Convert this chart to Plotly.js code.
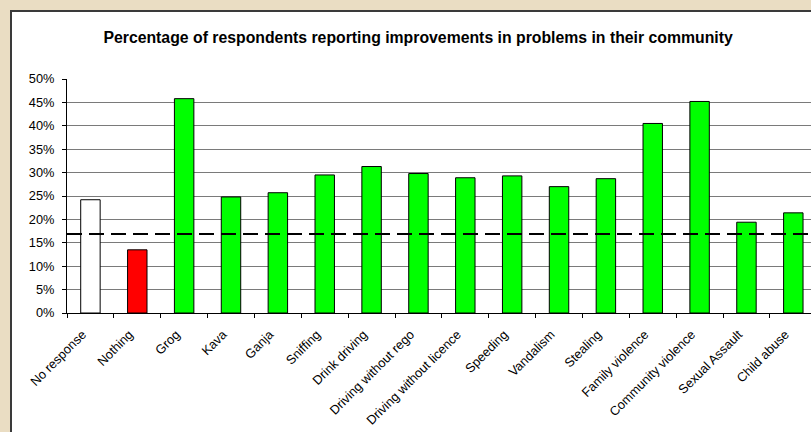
<!DOCTYPE html>
<html>
<head>
<meta charset="utf-8">
<script src="https://cdn.plot.ly/plotly-3.0.1.min.js"></script>
<style>
html,body{margin:0;padding:0;background:#EADDC3;width:811px;height:432px;overflow:hidden;}
#wrap{position:absolute;left:10px;top:10px;width:801px;height:422px;border-left:2px solid #3a3a3a;border-top:2px solid #3a3a3a;background:#fff;}
#chart{width:801px;height:422px;}
</style>
</head>
<body>
<div id="wrap"><div id="chart"></div></div>
<script>
var categories = ["No response","Nothing","Grog","Kava","Ganja","Sniffing","Drink driving","Driving without rego","Driving without licence","Speeding","Vandalism","Stealing","Family violence","Community violence","Sexual Assault","Child abuse"];
var values = [0.242,0.135,0.458,0.248,0.257,0.295,0.313,0.298,0.289,0.293,0.270,0.287,0.405,0.452,0.194,0.214];
var barColors = ["#FFFFFF","#FF0000","#00FF00","#00FF00","#00FF00","#00FF00","#00FF00","#00FF00","#00FF00","#00FF00","#00FF00","#00FF00","#00FF00","#00FF00","#00FF00","#00FF00"];
var referenceLine = 0.169;
var chartTitle = "Percentage of respondents reporting improvements in problems in their community";

var trace = {
  type: "bar",
  x: categories,
  y: values,
  marker: {color: barColors, line: {color: "#000000", width: 1}},
  hoverinfo: "x+y"
};

var layout = {
  width: 801, height: 422,
  margin: {l: 55, r: 0, t: 67, b: 121, pad: 0},
  paper_bgcolor: "#FFFFFF",
  plot_bgcolor: "#FFFFFF",
  font: {family: "Liberation Sans, Arial, sans-serif", color: "#000000", size: 12},
  title: {text: "<b>" + chartTitle + "</b>", x: 0.507, xanchor: "center", y: 0.94, yanchor: "middle", font: {size: 15.8, family: "Liberation Sans, Arial, sans-serif"}},
  bargap: 0.585,
  showlegend: false,
  xaxis: {
    type: "category",
    range: [-0.5, 15.42],
    tickson: "boundaries",
    ticks: "outside", ticklen: 4, tickcolor: "#000", tickwidth: 1,
    tickangle: -45,
    tickfont: {size: 12.8},
    ticklabelstandoff: 8,
    ticklabelshift: -8,
    showline: true, linecolor: "#000", linewidth: 1,
    showgrid: false, zeroline: false, fixedrange: true
  },
  yaxis: {
    range: [0, 0.5],
    dtick: 0.05, tick0: 0,
    tickformat: ".0%",
    ticks: "outside", ticklen: 4, tickcolor: "#000",
    tickfont: {size: 12.8},
    ticklabelstandoff: 5,
    showline: true, linecolor: "#000", linewidth: 1,
    showgrid: true, gridcolor: "#7a7a7a", gridwidth: 1,
    zeroline: false, fixedrange: true
  },
  shapes: [{
    type: "line", xref: "paper", yref: "y",
    x0: 0, x1: 1, y0: referenceLine, y1: referenceLine,
    line: {color: "#000000", width: 2, dash: "15px,7px"}
  }]
};

Plotly.newPlot("chart", [trace], layout, {displayModeBar: false, staticPlot: true});
</script>
</body>
</html>
